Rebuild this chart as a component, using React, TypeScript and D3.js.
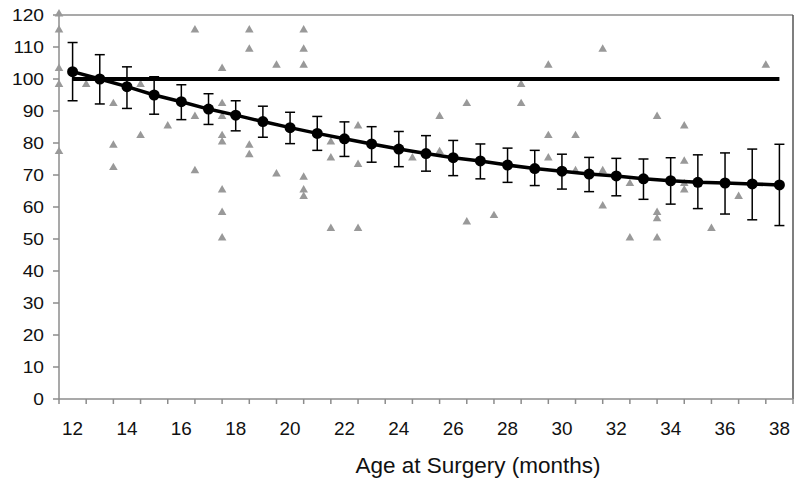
import React from 'react';
import * as d3 from 'd3';

// ages on the category axis (months)
const ages = d3.range(12, 39);

// fitted mean score per age, with the upper / lower ends of the error bars
const meanScore = [102.3, 100, 97.6, 95, 92.9, 90.6, 88.7, 86.7, 84.8, 83, 81.3, 79.7, 78.1, 76.7, 75.4, 74.4, 73.1, 72, 71.2, 70.3, 69.7, 68.8, 68.2, 67.7, 67.5, 67.2, 66.9];
const upperBar = [111.4, 107.6, 103.8, 100.7, 98.2, 95.4, 93.2, 91.5, 89.6, 88.3, 86.6, 85.1, 83.6, 82.3, 80.8, 79.7, 78.4, 77.7, 76.5, 75.5, 75.2, 75, 75.4, 76.3, 76.9, 78.1, 79.6];
const lowerBar = [93.2, 92.2, 90.8, 89, 87.3, 85.8, 83.8, 81.8, 79.8, 77.7, 75.8, 74, 72.6, 71.2, 69.8, 68.8, 67.7, 66.7, 65.6, 64.8, 63.5, 62.4, 60.9, 59.5, 57.8, 56, 54.2];

// reference score
const referenceScore = 100;

// individual patients: age at surgery and score
const patientAge = [
  12, 12, 12, 12, 12, 13, 14, 14, 14, 15, 15, 16, 17, 17, 17,
  18, 18, 18, 18, 18, 18, 18, 18, 19, 19, 19, 19, 20, 20,
  21, 21, 21, 21, 21, 21, 22, 22, 22, 23, 23, 23, 25, 26, 26,
  27, 27, 28, 29, 29, 30, 30, 30, 31, 31, 32, 32, 32, 33, 33,
  34, 34, 34, 34, 35, 35, 35, 35, 36, 37, 38,
];
const patientScore = [
  120, 115, 103, 98, 77, 98, 92, 79, 72, 98, 82, 85, 115, 88, 71,
  103, 92, 88, 82, 80, 65, 58, 50, 115, 109, 79, 76, 104, 70,
  115, 109, 104, 69, 65, 63, 80, 75, 53, 85, 73, 53, 75, 88, 77,
  92, 55, 57, 98, 92, 104, 82, 75, 82, 71, 109, 71, 60, 67, 50,
  88, 58, 56, 50, 85, 74, 67, 65, 53, 63, 104,
];

const yTicks = d3.range(0, 121, 10);
const xLabels = d3.range(12, 39, 2);

const W = 800;
const H = 487;
const left = 59;
const right = 793;
const top = 15;
const bottom = 399;
const font = '"Liberation Sans", Arial, sans-serif';

export default function App() {
  const x = d3.scaleBand<number>().domain(ages).range([left, right]).padding(0);
  const cx = (a: number) => (x(a) as number) + x.bandwidth() / 2;
  const y = d3.scaleLinear().domain([0, 120]).range([bottom, top]);

  const meanLine = d3
    .line<number>()
    .x((_, i) => cx(ages[i]))
    .y((v) => y(v));

  const tri = d3.symbol().type(d3.symbolTriangle).size(32)() as string;

  return (
    <svg width={W} height={H} style={{ position: 'absolute', left: 0, top: 0, background: '#fff' }}>
      {/* plot frame */}
      <line x1={left} x2={right} y1={top} y2={top} stroke="#8c8c8c" strokeWidth={1.5} />
      <line x1={right} x2={right} y1={top} y2={bottom} stroke="#555" strokeWidth={1.5} />

      {/* y axis */}
      <line x1={left} x2={left} y1={top} y2={bottom} stroke="#8c8c8c" strokeWidth={1.5} />
      {yTicks.map((t) => (
        <g key={t}>
          <line x1={left - 6} x2={left} y1={y(t)} y2={y(t)} stroke="#8c8c8c" strokeWidth={1.5} />
          <text
            transform={`translate(44, ${y(t) + 6}) scale(1.2, 1)`}
            textAnchor="end"
            fontSize={16}
            fontFamily={font}
            fill="#111"
          >
            {t}
          </text>
        </g>
      ))}

      {/* x axis */}
      <line x1={left} x2={right} y1={bottom} y2={bottom} stroke="#8c8c8c" strokeWidth={1.5} />
      {ages.concat([39]).map((a, i) => {
        const px = i < ages.length ? (x(a) as number) : right;
        return <line key={a} x1={px} x2={px} y1={bottom} y2={bottom + 5} stroke="#8c8c8c" strokeWidth={1.5} />;
      })}
      {xLabels.map((a) => (
        <text
          key={a}
          transform={`translate(${cx(a)}, 435) scale(1.05, 1)`}
          textAnchor="middle"
          fontSize={18}
          fontFamily={font}
          fill="#111"
        >
          {a}
        </text>
      ))}
      <text x={478} y={473} textAnchor="middle" fontSize={22.5} fontFamily={font} fill="#111">
        Age at Surgery (months)
      </text>

      {/* individual patients */}
      {patientAge.map((a, i) => (
        <path key={i} d={tri} transform={`translate(${x(a)},${y(patientScore[i]) - 1})`} fill="#999" />
      ))}

      {/* reference line */}
      <line
        x1={cx(ages[0])}
        x2={cx(ages[ages.length - 1])}
        y1={y(referenceScore)}
        y2={y(referenceScore)}
        stroke="#000"
        strokeWidth={4}
      />

      {/* error bars */}
      {ages.map((a, i) => (
        <g key={a} stroke="#000" strokeWidth={1.5}>
          <line x1={cx(a)} x2={cx(a)} y1={y(upperBar[i])} y2={y(lowerBar[i])} />
          <line x1={cx(a) - 5} x2={cx(a) + 5} y1={y(upperBar[i])} y2={y(upperBar[i])} />
          <line x1={cx(a) - 5} x2={cx(a) + 5} y1={y(lowerBar[i])} y2={y(lowerBar[i])} />
        </g>
      ))}

      {/* fitted means */}
      <path d={meanLine(meanScore) as string} fill="none" stroke="#000" strokeWidth={3.5} />
      {ages.map((a, i) => (
        <circle key={a} cx={cx(a)} cy={y(meanScore[i])} r={5.5} fill="#000" />
      ))}
    </svg>
  );
}
